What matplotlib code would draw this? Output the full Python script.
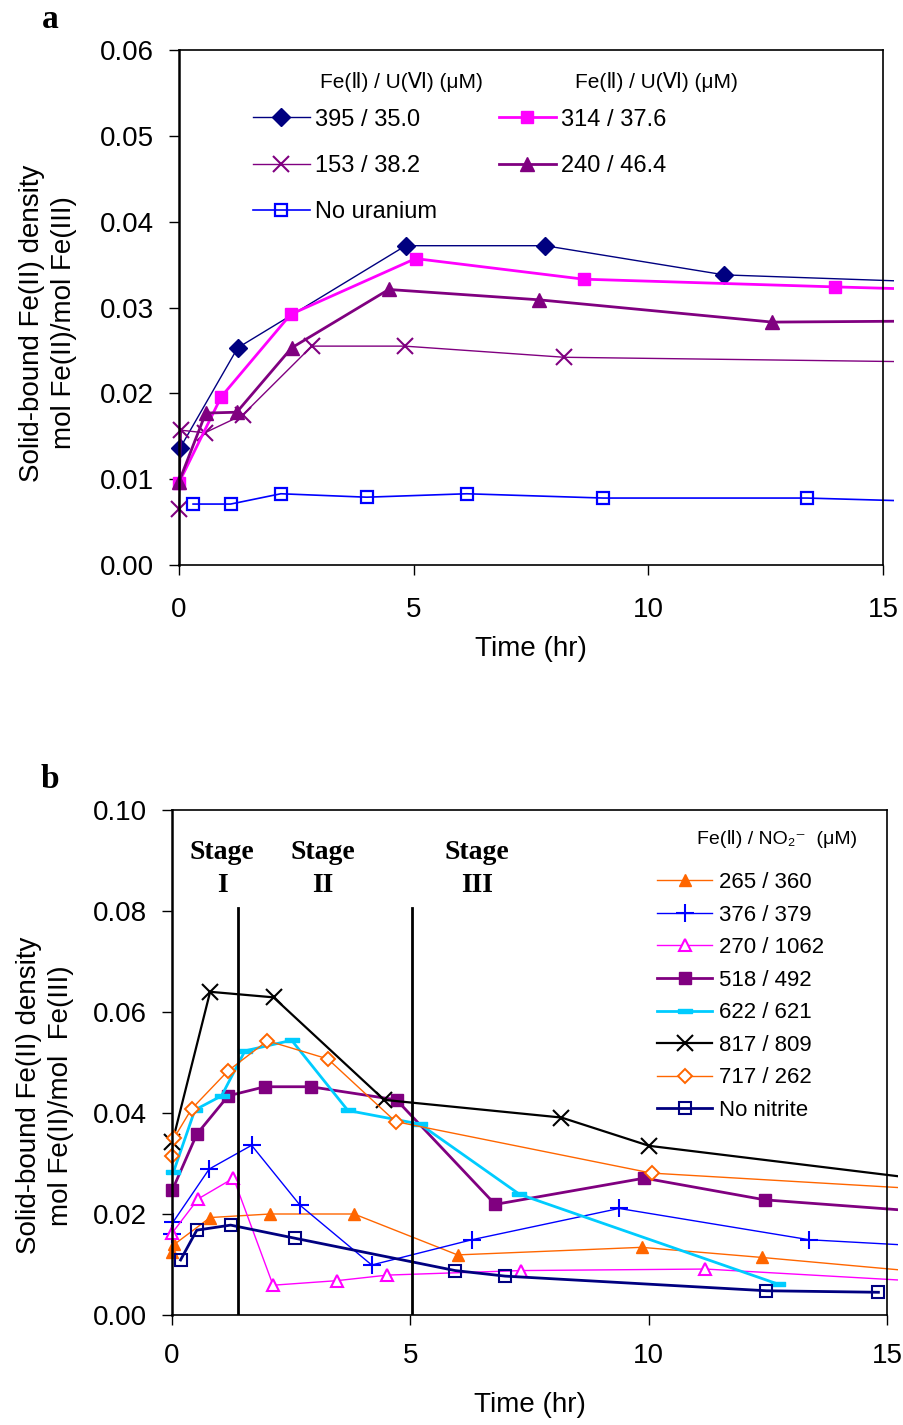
import matplotlib

matplotlib.use("Agg")
import matplotlib.pyplot as plt
from matplotlib.ticker import FormatStrFormatter
from matplotlib.transforms import Bbox, TransformedBbox

SANS = ["Liberation Sans", "DejaVu Sans"]
SERIF = ["Liberation Serif", "DejaVu Serif"]
plt.rcParams["font.family"] = SANS

# ---------------- panel a: Fe(II) + U(VI) ----------------
A_LABELS = ["395 / 35.0", "153 / 38.2", "No uranium", "314 / 37.6", "240 / 46.4"]
A_T = [
    [0.02, 1.25, 4.83, 7.80, 11.62, 15.3],
    [0.0, 0.05, 0.55, 1.36, 2.83, 4.81, 8.21, 15.3],
    [0.30, 1.10, 2.17, 4.00, 6.13, 9.04, 13.38, 15.3],
    [0.0, 0.90, 2.38, 5.04, 8.62, 13.98, 15.3],
    [0.0, 0.57, 1.23, 2.40, 4.47, 7.66, 12.64, 15.3],
]
A_Y = [
    [0.0136, 0.0253, 0.0372, 0.0372, 0.0338, 0.0331],
    [0.0065, 0.0157, 0.0154, 0.0175, 0.0255, 0.0255, 0.0242, 0.0237],
    [0.0071, 0.0071, 0.0083, 0.0079, 0.0083, 0.0078, 0.0078, 0.0075],
    [0.0096, 0.0196, 0.0292, 0.0357, 0.0333, 0.0324, 0.0322],
    [0.0097, 0.0177, 0.0178, 0.0253, 0.0321, 0.0309, 0.0283, 0.0284],
]
A_TITLE = "Fe(Ⅱ) / U(Ⅵ) (μM)"

# ---------------- panel b: Fe(II) + nitrite ----------------
B_LABELS = ["265 / 360", "376 / 379", "270 / 1062", "518 / 492",
            "622 / 621", "817 / 809", "717 / 262", "No nitrite"]
B_T = [
    [0.0, 0.05, 0.80, 2.06, 3.82, 5.99, 9.85, 12.37, 15.3],
    [0.0, 0.03, 0.78, 1.67, 2.69, 4.19, 6.29, 9.38, 13.37, 15.3],
    [0.0, 0.55, 1.29, 2.12, 3.46, 4.52, 7.33, 11.19, 15.3],
    [0.01, 0.52, 1.18, 1.95, 2.91, 4.71, 6.78, 9.91, 12.44, 15.3],
    [0.03, 0.48, 1.04, 1.53, 2.51, 3.69, 5.20, 7.29, 12.72],
    [0.01, 0.80, 2.13, 4.45, 8.17, 10.01, 15.3],
    [0.0, 0.04, 0.41, 1.17, 2.00, 3.27, 4.69, 10.06, 15.3],
    [0.18, 0.52, 1.23, 2.58, 5.94, 6.99, 12.47, 14.82],
]
B_Y = [
    [0.0125, 0.0140, 0.0193, 0.0200, 0.0200, 0.0119, 0.0134, 0.0114, 0.0089],
    [0.0160, 0.0185, 0.0289, 0.0336, 0.0217, 0.0099, 0.0149, 0.0211, 0.0149, 0.0139],
    [0.0162, 0.0230, 0.0271, 0.0059, 0.0068, 0.0079, 0.0088, 0.0091, 0.0069],
    [0.0248, 0.0358, 0.0434, 0.0452, 0.0452, 0.0426, 0.0219, 0.0271, 0.0228, 0.0208],
    [0.0283, 0.0406, 0.0434, 0.0523, 0.0544, 0.0405, 0.0378, 0.0239, 0.0061],
    [0.0343, 0.0640, 0.0629, 0.0426, 0.0391, 0.0335, 0.0274],
    [0.0314, 0.0350, 0.0408, 0.0483, 0.0543, 0.0507, 0.0383, 0.0281, 0.0252],
    [0.0109, 0.0168, 0.0178, 0.0152, 0.0088, 0.0077, 0.0048, 0.0045],
]
B_TITLE = "Fe(Ⅱ) / NO₂⁻  (μM)"
STAGE_BOUNDS = [1.38, 5.03]
STAGE_TOP = 0.0806
STAGE_TEXT = ["Stage\nI", "Stage\nII", "Stage\nIII"]
STAGE_X = [1.05, 3.17, 6.40]

X_TICKS = [0, 5, 10, 15]
YLABEL = "Solid-bound Fe(II) density\nmol Fe(II)/mol Fe(III)"

DASH = [(-1, -0.3), (1, -0.3), (1, 0.3), (-1, 0.3), (-1, -0.3)]

A_STYLE = [
    dict(color="#000080", marker="D", ms=9, lw=1.0, mfc="#000080"),
    dict(color="#800080", marker="x", ms=12, mew=1.5, lw=1.0),
    dict(color="#0000FF", marker="s", ms=9, lw=1.2, mfc="none", mew=1.6),
    dict(color="#FF00FF", marker="s", ms=8, lw=2.0, mfc="#FF00FF"),
    dict(color="#800080", marker="^", ms=10, lw=2.0, mfc="#800080"),
]
B_STYLE = [
    dict(color="#FF6600", marker="^", ms=9, lw=1.0, mfc="#FF6600"),
    dict(color="#0000FF", marker="+", ms=13, mew=1.5, lw=1.0),
    dict(color="#FF00FF", marker="^", ms=9, lw=1.0, mfc="white", mew=1.5),
    dict(color="#800080", marker="s", ms=8, lw=2.0, mfc="#800080"),
    dict(color="#00CCFF", marker=DASH, ms=10, lw=2.0, mfc="#00CCFF"),
    dict(color="black", marker="x", ms=12, mew=1.5, lw=1.6),
    dict(color="#FF6600", marker="D", ms=7, lw=1.0, mfc="white", mew=1.4),
    dict(color="#000080", marker="s", ms=9, lw=2.0, mfc="none", mew=1.5),
]


def draw_series(ax, ts, ys, labels, styles):
    """Plot each series; a last point past 15 h only carries the line to the frame edge."""
    box = TransformedBbox(Bbox([[-0.04, -0.03], [1.015, 1.03]]), ax.transAxes)
    handles = []
    for t, y, lab, st in zip(ts, ys, labels, styles):
        every = slice(0, len(t) - 1) if t[-1] > 15 else None
        (line,) = ax.plot(t, y, label=lab, markevery=every, **st)
        line.set_clip_path(None)
        line.set_clip_box(box)
        handles.append(line)
    return handles


def style_axes(ax, ylim, yticks, xpad, ypad):
    ax.set_xlim(0, 15)
    ax.set_ylim(*ylim)
    ax.set_xticks(X_TICKS)
    ax.set_yticks(yticks)
    ax.yaxis.set_major_formatter(FormatStrFormatter("%.2f"))
    ax.tick_params(axis="x", direction="out", length=7, width=1, labelsize=20, pad=xpad)
    ax.tick_params(axis="y", direction="out", length=7, width=1, labelsize=20, pad=ypad)
    for side in ("top", "right", "bottom"):
        ax.spines[side].set_linewidth(1.2)
    ax.spines["left"].set_linewidth(1.8)


fig = plt.figure(figsize=(9.04, 14.25), dpi=100)

# ---- panel a ----
ax_a = fig.add_axes([179 / 904, 1 - 565 / 1425, 704 / 904, 515 / 1425])
draw_series(ax_a, A_T, A_Y, A_LABELS, A_STYLE)
style_axes(ax_a, (0, 0.06), [0, 0.01, 0.02, 0.03, 0.04, 0.05, 0.06], 16, 11)
ax_a.set_xlabel("Time (hr)", fontsize=20)
ax_a.xaxis.set_label_coords(0.50, -0.138)
ax_a.set_ylabel(YLABEL, fontsize=20, linespacing=1.3)
ax_a.yaxis.set_label_coords(-0.145, 0.47)
ax_a.legend(loc="upper left", bbox_to_anchor=(0.105, 0.886), ncol=2, frameon=False,
            fontsize=17, handlelength=2.4, handletextpad=0.25, columnspacing=2.6,
            labelspacing=1.03, borderpad=0, borderaxespad=0)
ax_a.text(0.316, 0.937, A_TITLE, transform=ax_a.transAxes, ha="center", va="center",
          fontsize=15)
ax_a.text(0.678, 0.937, A_TITLE, transform=ax_a.transAxes, ha="center", va="center",
          fontsize=15)
fig.text(50 / 904, 1 - 20 / 1425, "a", family=SERIF, weight="bold", fontsize=24,
         ha="center", va="center")

# ---- panel b ----
ax_b = fig.add_axes([172 / 904, 1 - 1315 / 1425, 715 / 904, 505 / 1425])
draw_series(ax_b, B_T, B_Y, B_LABELS, B_STYLE)
for xb in STAGE_BOUNDS:
    ax_b.plot([xb, xb], [0, STAGE_TOP], color="black", lw=2.0)
for xs, txt in zip(STAGE_X, STAGE_TEXT):
    ax_b.text(xs, 0.0883, txt, family=SERIF, weight="bold", fontsize=20,
              ha="center", va="center", linespacing=1.4)
style_axes(ax_b, (0, 0.10), [0, 0.02, 0.04, 0.06, 0.08, 0.10], 13, 11)
ax_b.set_xlabel("Time (hr)", fontsize=20)
ax_b.xaxis.set_label_coords(0.50, -0.152)
ax_b.set_ylabel(YLABEL.replace("/mol ", "/mol  "), fontsize=20, linespacing=1.3)
ax_b.yaxis.set_label_coords(-0.137, 0.435)
ax_b.legend(loc="upper left", bbox_to_anchor=(0.678, 0.877), frameon=False,
            fontsize=16, handlelength=2.5, handletextpad=0.3,
            labelspacing=0.52, borderpad=0, borderaxespad=0)
ax_b.text(0.846, 0.943, B_TITLE, transform=ax_b.transAxes, ha="center", va="center",
          fontsize=14)
fig.text(50 / 904, 1 - 780 / 1425, "b", family=SERIF, weight="bold", fontsize=24,
         ha="center", va="center")

fig.savefig("out.png", dpi=100)
plt.close(fig)
